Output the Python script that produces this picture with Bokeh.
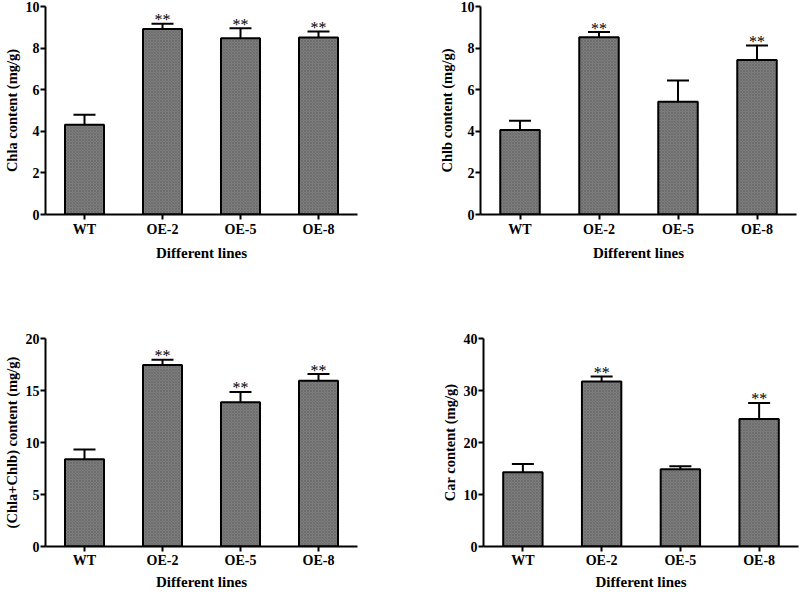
from bokeh.plotting import figure
from bokeh.models import FactorRange, Range1d, FixedTicker, ColumnDataSource
from bokeh.layouts import column, row
from bokeh.embed import file_html
from bokeh.resources import INLINE
from bokeh.core.properties import value

cats = ["WT", "OE-2", "OE-5", "OE-8"]

chla = [4.31, 8.92, 8.47, 8.51]
chla_err = [0.49, 0.25, 0.49, 0.29]
chla_sig = ["", "**", "**", "**"]

chlb = [4.06, 8.52, 5.42, 7.43]
chlb_err = [0.45, 0.25, 1.02, 0.70]
chlb_sig = ["", "**", "", "**"]

total = [8.38, 17.45, 13.86, 15.93]
total_err = [0.95, 0.50, 1.00, 0.65]
total_sig = ["", "**", "**", "**"]

car = [14.30, 31.75, 14.86, 24.50]
car_err = [1.57, 0.95, 0.57, 3.10]
car_sig = ["", "**", "", "**"]

ticks_a = [0, 2, 4, 6, 8, 10]
ticks_b = [0, 2, 4, 6, 8, 10]
ticks_t = [0, 5, 10, 15, 20]
ticks_c = [0, 10, 20, 30, 40]

x_title = "Different lines"
FONT = "Liberation Serif"


def panel(vals, errs, sig, ticks, ylabel, borders, xstand):
    left, right, top, bottom = borders
    p = figure(width=400, height=296, x_range=FactorRange(factors=cats, range_padding=0),
               y_range=Range1d(ticks[0], ticks[-1]), output_backend="svg",
               toolbar_location=None, min_border_left=left, min_border_right=right,
               min_border_top=top, min_border_bottom=bottom)
    p.outline_line_color = None
    p.xgrid.visible = False
    p.ygrid.visible = False
    p.background_fill_color = "white"

    tops = [v + e for v, e in zip(vals, errs)]
    src = ColumnDataSource(dict(x=cats, v=vals, t=tops, s=sig))

    p.vbar(x="x", top="v", bottom=0, width=0.5, source=src,
           fill_color="#7e7e7e", line_color="black", line_width=2,
           hatch_pattern="x", hatch_color="#626262", hatch_scale=3, hatch_weight=0.6)
    p.segment(x0="x", y0="v", x1="x", y1="t", source=src, line_color="black", line_width=2)
    p.dash(x="x", y="t", size=22, source=src, line_color="black", line_width=2)
    p.text(x="x", y="t", text="s", source=src, text_align="center",
           text_baseline="alphabetic", y_offset=-4, text_font=value(FONT),
           text_font_size="16px", text_color="black")

    for ax in (p.xaxis[0], p.yaxis[0]):
        ax.axis_line_width = 2
        ax.axis_line_color = "black"
        ax.major_tick_line_width = 2
        ax.major_tick_line_color = "black"
        ax.major_tick_out = 5
        ax.major_tick_in = 0
        ax.minor_tick_line_color = None
        ax.major_label_text_font = FONT
        ax.major_label_text_font_style = "bold"
        ax.major_label_text_color = "black"
        ax.axis_label_text_font = FONT
        ax.axis_label_text_font_style = "bold"
        ax.axis_label_text_color = "black"

    p.xaxis.axis_label = x_title
    p.xaxis.major_label_text_font_size = "14px"
    p.xaxis.axis_label_text_font_size = "15px"
    p.xaxis.major_label_standoff = xstand[0]
    p.xaxis.axis_label_standoff = xstand[1]

    p.yaxis.axis_label = ylabel
    p.yaxis.ticker = FixedTicker(ticks=ticks)
    p.yaxis.major_label_text_font_size = "14px"
    p.yaxis.axis_label_text_font_size = "14.5px"
    p.yaxis.major_label_standoff = 1
    p.yaxis.axis_label_standoff = 3
    return p


p1 = panel(chla, chla_err, chla_sig, ticks_a, "Chla content (mg/g)", (42, 43, 6, 82), (2, 5))
p2 = panel(chlb, chlb_err, chlb_sig, ticks_b, "Chlb content (mg/g)", (80, 4, 6, 82), (2, 5))
p3 = panel(total, total_err, total_sig, ticks_t, "(Chla+Chlb) content (mg/g)", (43, 43, 42, 46), (1, 3))
p4 = panel(car, car_err, car_sig, ticks_c, "Car content (mg/g)", (83, 2, 42, 46), (1, 3))

layout = column(row(p1, p2), row(p3, p4))
open("out.html", "w").write(file_html(layout, INLINE))
